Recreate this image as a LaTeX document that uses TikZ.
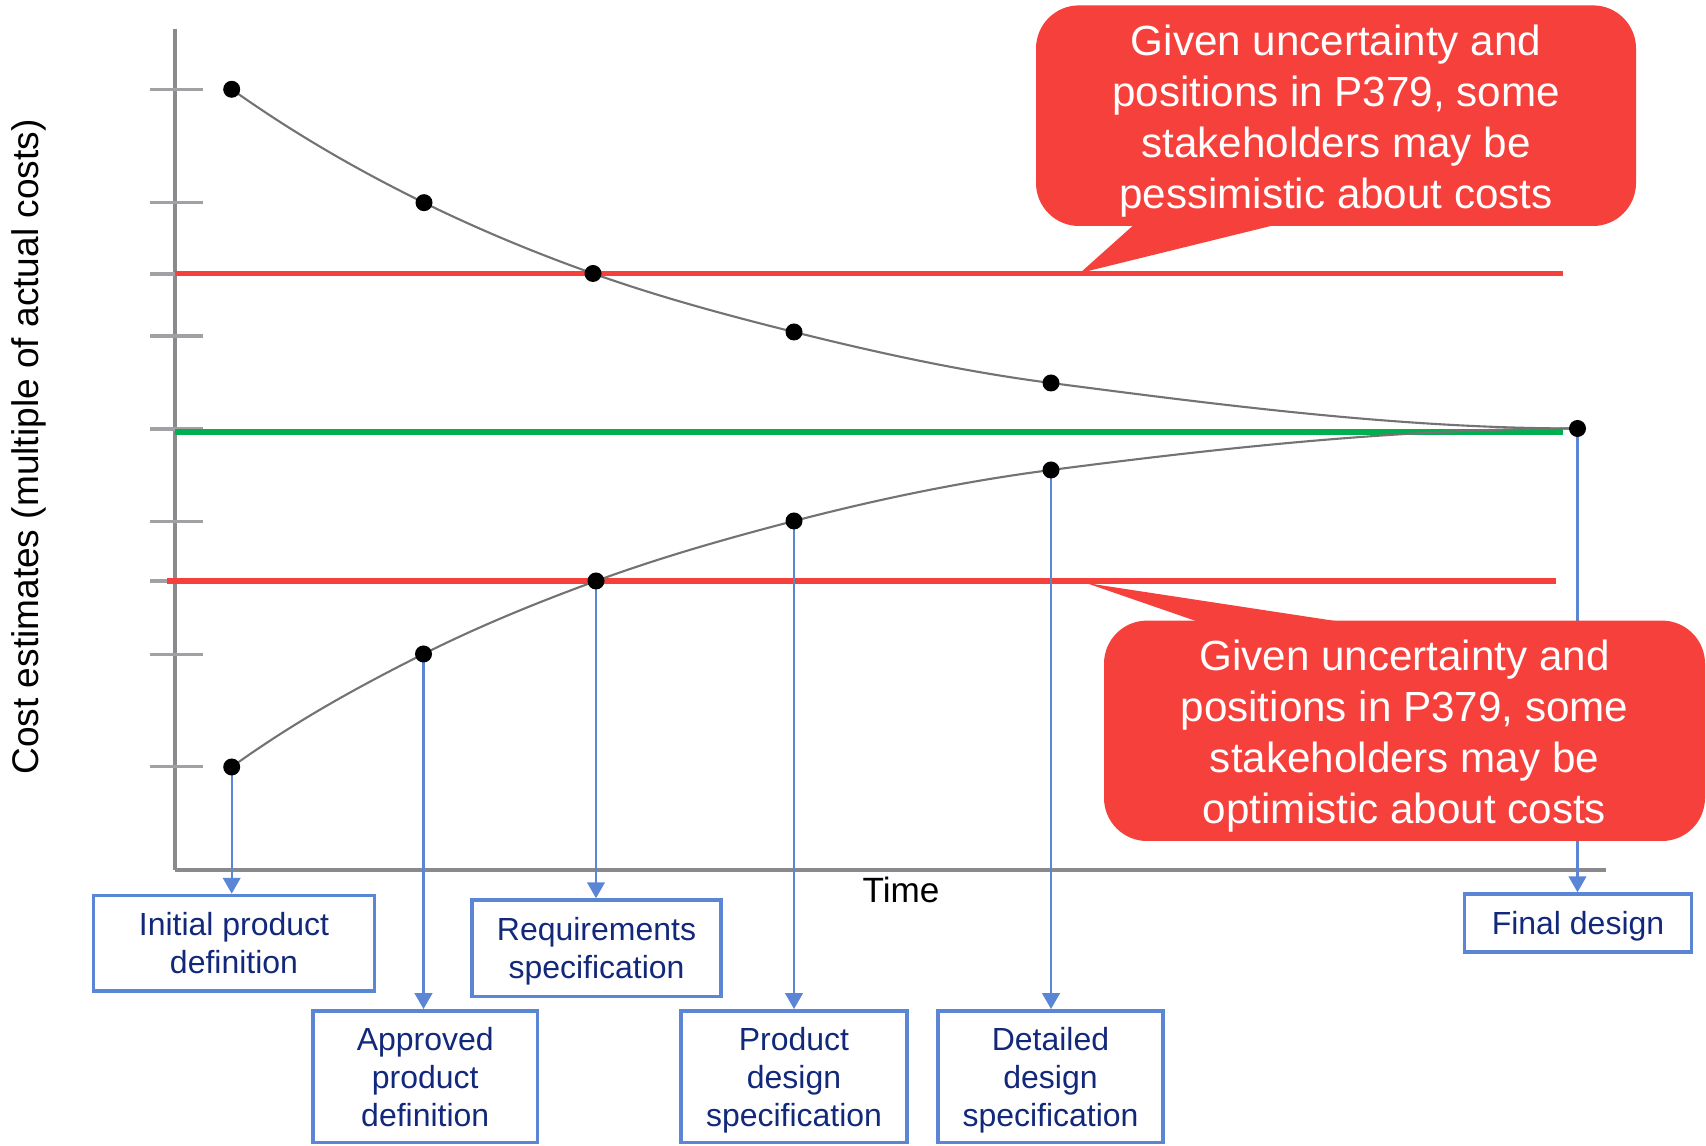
\documentclass[tikz,border=0pt]{standalone}
\usepackage{fontspec}
\setmainfont{Liberation Sans}
\usetikzlibrary{arrows.meta,positioning}
\definecolor{calloutred}{RGB}{245,64,60}
\definecolor{levelgreen}{RGB}{0,176,80}
\definecolor{stageblue}{RGB}{91,134,214}
\definecolor{stagetext}{RGB}{18,40,122}
\definecolor{axisgray}{RGB}{138,138,142}
\definecolor{curvegray}{RGB}{115,115,115}

\begin{document}
\begin{tikzpicture}[
		axisline/.style={draw=axisgray, line width=1pt},
		tickline/.style={draw=axisgray!80, line width=1pt},
		curveline/.style={draw=curvegray, line width=0.6pt},
		redlevel/.style={draw=calloutred, line width=1.7pt},
		greenlevel/.style={draw=levelgreen, line width=1.9pt},
		stagebox/.style={draw=stageblue, line width=1pt, text=stagetext, align=center, inner sep=0pt, text depth=0pt, font=\fontsize{9.1}{10.8}\selectfont},
		stagearrow/.style={draw=stageblue, line width=0.6pt, -{Triangle[width=5pt,length=4.5pt]}},
		callouttext/.style={text=white, align=center, font=\fontsize{12}{14.5}\selectfont},
	]
	\useasboundingbox (0,0) rectangle (17.06,11.46);

	\draw[axisline] (1.75,11.17) to (1.75,2.76);
	\draw[axisline] (1.75,2.76) to (16.06,2.76);

		\draw[tickline] (1.50,10.567) to (2.03,10.567);
		\draw[tickline] (1.50,9.433) to (2.03,9.433);
		\draw[tickline] (1.50,8.72) to (2.03,8.72);
		\draw[tickline] (1.50,8.10) to (2.03,8.10);
		\draw[tickline] (1.50,7.17) to (2.03,7.17);
		\draw[tickline] (1.50,6.246) to (2.03,6.246);
		\draw[tickline] (1.50,5.65) to (2.03,5.65);
		\draw[tickline] (1.50,4.917) to (2.03,4.917);
		\draw[tickline] (1.50,3.793) to (2.03,3.793);

	\coordinate (u1) at (2.317,10.567);
	\coordinate (u2) at (4.24,9.433);
	\coordinate (u3) at (5.93,8.725);
	\coordinate (u4) at (7.94,8.14);
	\coordinate (u5) at (10.51,7.63);
	\coordinate (l1) at (2.317,3.79);
	\coordinate (l2) at (4.235,4.92);
	\coordinate (l3) at (5.96,5.65);
	\coordinate (l4) at (7.94,6.25);
	\coordinate (l5) at (10.51,6.76);
	\coordinate (fin) at (15.775,7.175);

		\draw[redlevel] (1.75,8.725) to (15.63,8.725);
		\draw[greenlevel] (1.75,7.14) to (15.63,7.14);
		\draw[redlevel] (1.67,5.65) to (15.555,5.65);

	\draw[curveline] (u1) .. controls (2.958,10.112) and (3.599,9.747) .. (u2)
		.. controls (4.803,9.157) and (5.367,8.925) .. (u3)
		.. controls (6.60,8.487) and (7.27,8.3075) .. (u4)
		.. controls (8.797,7.926) and (9.653,7.741) .. (u5)
		.. controls (12.265,7.402) and (14.02,7.175) .. (fin);
	\draw[curveline] (l1) .. controls (2.956,4.25) and (3.596,4.60) .. (l2)
		.. controls (4.81,5.2075) and (5.385,5.44) .. (l3)
		.. controls (6.62,5.892) and (7.28,6.078) .. (l4)
		.. controls (8.797,6.473) and (9.653,6.649) .. (l5)
		.. controls (12.265,6.988) and (14.02,7.175) .. (fin);

	\node[stagebox, minimum width=2.807cm, minimum height=0.958cm] (initial) at (2.34,2.027) {Initial product\\definition};
	\node[stagebox, minimum width=2.245cm, minimum height=1.317cm] (approved) at (4.2525,0.6935) {Approved\\product\\definition};
	\node[stagebox, minimum width=2.49cm, minimum height=0.966cm] (requirements) at (5.965,1.977) {Requirements\\specification};
	\node[stagebox, minimum width=2.26cm, minimum height=1.317cm] (productdesign) at (7.94,0.6935) {Product\\design\\specification};
	\node[stagebox, minimum width=2.25cm, minimum height=1.317cm] (detailed) at (10.505,0.6935) {Detailed\\design\\specification};
	\node[stagebox, minimum width=2.27cm, minimum height=0.58cm] (final) at (15.78,2.23) {Final design};

		\draw[stagearrow] (l1) to (l1 |- initial.north);
		\draw[stagearrow] (l2) to (l2 |- approved.north);
		\draw[stagearrow] (l3) to (l3 |- requirements.north);
		\draw[stagearrow] (l4) to (l4 |- productdesign.north);
		\draw[stagearrow] (l5) to (l5 |- detailed.north);
		\draw[stagearrow] (fin) to (fin |- final.north);

	\fill (u1) circle (0.085);
	\fill (u2) circle (0.085);
	\fill (u3) circle (0.085);
	\fill (u4) circle (0.085);
	\fill (u5) circle (0.085);
	\fill (l1) circle (0.085);
	\fill (l2) circle (0.085);
	\fill (l3) circle (0.085);
	\fill (l4) circle (0.085);
	\fill (l5) circle (0.085);
	\fill (fin) circle (0.085);

	\fill[calloutred, rounded corners=0.43cm] (10.36,9.20) rectangle (16.36,11.406);
	\fill[calloutred] (11.37,9.24) -- (10.80,8.73) -- (12.87,9.24) -- cycle;
	\node[callouttext] (pessimistic) at (13.36,10.245) {Given uncertainty and\\positions in P379, some\\stakeholders may be\\pessimistic about costs};

	\fill[calloutred, rounded corners=0.43cm] (11.04,3.05) rectangle (17.05,5.254);
	\fill[calloutred] (12.046,5.22) -- (10.86,5.63) -- (13.55,5.22) -- cycle;
	\node[callouttext] (optimistic) at (14.045,4.095) {Given uncertainty and\\positions in P379, some\\stakeholders may be\\optimistic about costs};

	\node[font=\fontsize{10}{12}\selectfont] (timelabel) at (9.01,2.56) {Time};
	\node[rotate=90, font=\fontsize{10.55}{12.5}\selectfont] (costlabel) at (0.29,6.99) {Cost estimates (multiple of actual costs)};

\end{tikzpicture}
\end{document}
